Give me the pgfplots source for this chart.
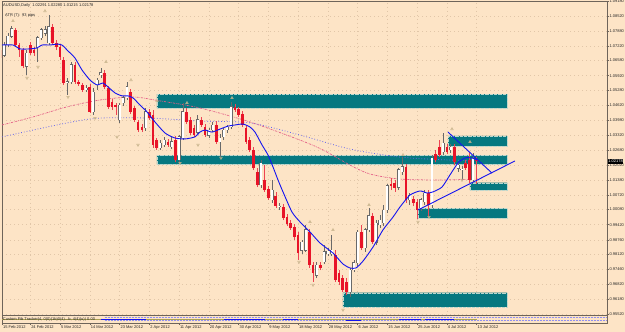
\documentclass[border=0pt]{standalone}
\usepackage{fontspec}
\setmainfont{Liberation Sans}
\usepackage{pgfplots}
\pgfplotsset{compat=1.18}
\usepackage{pgfplotstable}
\definecolor{bg}{RGB}{253,228,198}
\definecolor{boxteal}{RGB}{6,120,128}
\definecolor{boxedge}{RGB}{190,215,205}
\definecolor{bear}{RGB}{232,20,40}
\definecolor{bullline}{RGB}{105,105,105}
\definecolor{maBlue}{RGB}{20,20,240}
\definecolor{maPink}{RGB}{228,95,135}
\definecolor{maLav}{RGB}{105,105,235}
\definecolor{frac}{RGB}{200,180,140}
\definecolor{frame}{RGB}{110,100,90}
\definecolor{gridc}{RGB}{225,198,168}
\definecolor{olive}{RGB}{170,160,80}
\newcommand\mt{\fontsize{4}{4.8}\selectfont}

\pgfplotstableread{
i o h l c
1 1.0682 1.0739 1.0674 1.0726
2 1.0726 1.0778 1.0717 1.0765
3 1.0765 1.0809 1.0757 1.0796
7 1.0634 1.0704 1.0595 1.0691
10 1.0713 1.0765 1.0652 1.0757
11 1.0757 1.0800 1.0748 1.0792
12 1.0778 1.0809 1.0765 1.0792
13 1.0735 1.0857 1.0726 1.0805
18 1.0560 1.0582 1.0508 1.0565
19 1.0565 1.0652 1.0556 1.0639
23 1.0530 1.0552 1.0521 1.0538
25 1.0434 1.0538 1.0421 1.0521
26 1.0552 1.0582 1.0530 1.0573
27 1.0595 1.0626 1.0582 1.0604
32 1.0399 1.0473 1.0386 1.0464
33 1.0473 1.0504 1.0460 1.0495
34 1.0495 1.0565 1.0486 1.0543
39 1.0364 1.0451 1.0351 1.0434
43 1.0277 1.0311 1.0268 1.0298
44 1.0290 1.0325 1.0281 1.0311
46 1.0281 1.0325 1.0272 1.0303
48 1.0224 1.0333 1.0207 1.0325
49 1.0320 1.0473 1.0311 1.0434
53 1.0346 1.0421 1.0338 1.0399
56 1.0333 1.0364 1.0320 1.0355
57 1.0355 1.0390 1.0346 1.0377
59 1.0303 1.0338 1.0237 1.0320
60 1.0325 1.0364 1.0311 1.0355
61 1.0355 1.0377 1.0342 1.0368
62 1.0368 1.0477 1.0359 1.0456
70 1.0115 1.0224 1.0102 1.0211
73 1.0050 1.0137 1.0037 1.0093
75 1.0019 1.0037 1.0006 1.0023
81 0.9831 0.9875 0.9814 0.9866
82 0.9831 0.9941 0.9823 0.9919
85 0.9722 0.9779 0.9709 0.9766
87 0.9779 0.9853 0.9770 0.9823
88 0.9814 0.9840 0.9805 0.9827
89 0.9814 0.9897 0.9805 0.9831
94 0.9648 0.9753 0.9626 0.9744
95 0.9744 0.9788 0.9735 0.9775
96 0.9775 0.9919 0.9762 0.9910
98 0.9840 0.9927 0.9823 0.9919
99 0.9919 1.0015 0.9910 0.9980
101 0.9866 0.9962 0.9853 0.9949
102 0.9941 0.9984 0.9927 0.9962
103 0.9949 1.0028 0.9936 1.0006
104 1.0006 1.0119 0.9993 1.0111
107 1.0106 1.0189 1.0093 1.0181
108 1.0172 1.0237 1.0159 1.0194
110 1.0050 1.0080 1.0028 1.0071
113 1.0015 1.0058 1.0002 1.0050
114 1.0041 1.0093 1.0028 1.0080
116 1.0028 1.0246 1.0015 1.0233
119 1.0259 1.0342 1.0246 1.0298
121 1.0268 1.0294 1.0255 1.0281
123 1.0189 1.0215 1.0172 1.0202
124 1.0181 1.0198 1.0137 1.0185
127 1.0137 1.0255 1.0128 1.0233
}\upT

\pgfplotstableread{
i o h l c
0 1.0704 1.0717 1.0661 1.0669
4 1.0792 1.0800 1.0717 1.0726
5 1.0726 1.0735 1.0674 1.0704
6 1.0704 1.0713 1.0626 1.0634
8 1.0726 1.0739 1.0682 1.0691
9 1.0704 1.0717 1.0678 1.0691
14 1.0805 1.0818 1.0726 1.0735
15 1.0735 1.0748 1.0704 1.0717
16 1.0717 1.0730 1.0661 1.0674
17 1.0661 1.0674 1.0552 1.0560
20 1.0639 1.0652 1.0556 1.0565
21 1.0565 1.0573 1.0547 1.0556
22 1.0552 1.0560 1.0521 1.0530
24 1.0543 1.0556 1.0429 1.0434
28 1.0604 1.0617 1.0534 1.0543
29 1.0538 1.0547 1.0447 1.0456
30 1.0477 1.0490 1.0442 1.0456
31 1.0464 1.0473 1.0421 1.0456
35 1.0521 1.0534 1.0425 1.0434
36 1.0451 1.0460 1.0390 1.0399
37 1.0390 1.0399 1.0346 1.0355
38 1.0368 1.0381 1.0346 1.0355
40 1.0434 1.0447 1.0399 1.0407
41 1.0421 1.0442 1.0277 1.0290
42 1.0311 1.0320 1.0268 1.0277
45 1.0303 1.0316 1.0281 1.0290
47 1.0311 1.0329 1.0215 1.0224
50 1.0434 1.0451 1.0381 1.0390
51 1.0399 1.0412 1.0333 1.0342
52 1.0364 1.0377 1.0325 1.0333
54 1.0399 1.0412 1.0368 1.0377
55 1.0368 1.0381 1.0325 1.0333
58 1.0377 1.0394 1.0294 1.0303
63 1.0456 1.0469 1.0434 1.0442
64 1.0447 1.0456 1.0412 1.0421
65 1.0425 1.0438 1.0368 1.0377
66 1.0364 1.0377 1.0294 1.0303
67 1.0311 1.0325 1.0259 1.0268
68 1.0268 1.0281 1.0181 1.0189
69 1.0172 1.0189 1.0106 1.0115
71 1.0137 1.0202 1.0085 1.0093
72 1.0098 1.0111 1.0050 1.0058
74 1.0067 1.0085 1.0015 1.0023
76 1.0019 1.0032 0.9962 0.9971
77 0.9975 0.9989 0.9936 0.9945
78 0.9949 0.9962 0.9919 0.9927
79 0.9932 0.9945 0.9875 0.9888
80 0.9897 0.9910 0.9788 0.9818
83 0.9910 0.9923 0.9753 0.9766
84 0.9766 0.9779 0.9692 0.9731
86 0.9766 0.9779 0.9744 0.9753
90 0.9810 0.9831 0.9692 0.9701
91 0.9731 0.9744 0.9679 0.9692
92 0.9709 0.9722 0.9648 0.9657
93 0.9692 0.9709 0.9635 0.9648
97 0.9910 0.9941 0.9831 0.9840
100 0.9980 0.9993 0.9858 0.9866
105 1.0119 1.0146 1.0093 1.0111
106 1.0124 1.0137 1.0085 1.0102
109 1.0194 1.0207 1.0037 1.0050
111 1.0054 1.0067 1.0023 1.0037
112 1.0041 1.0054 0.9967 1.0006
115 1.0080 1.0093 0.9980 1.0028
117 1.0250 1.0268 1.0215 1.0224
118 1.0281 1.0311 1.0237 1.0246
120 1.0281 1.0294 1.0250 1.0259
122 1.0281 1.0294 1.0202 1.0215
125 1.0211 1.0224 1.0181 1.0189
126 1.0224 1.0259 1.0124 1.0137
128 1.02291 1.02380 1.01215 1.02178
}\downT

\begin{document}
\begin{tikzpicture}[x=1pt,y=1pt]
\useasboundingbox (0,0) rectangle (625,332);
\fill[bg] (0,0) rectangle (625,332);

\begin{axis}[at={(2pt,17pt)}, anchor=south west, scale only axis,
  width=605pt, height=314pt,
  xmin=0.403, xmax=163.04, ymin=0.95477, ymax=1.09180,
  axis line style={frame, line width=0.6pt},
  xtick={0.45,8,16,24,32,40,48,56,64,72,80,88,96,104,112,120,128},
  xticklabels={}, x tick style={draw=none},
  ytick={0.95520,0.96180,0.96820,0.97460,0.98120,0.98760,0.99420,1.00080,1.00720,1.01380,1.02020,1.02680,1.03320,1.03980,1.04620,1.05280,1.05920,1.06580,1.07220,1.07880,1.08520,1.09180},
  yticklabels={0.95520,0.96180,0.96820,0.97460,0.98120,0.98760,0.99420,1.00080,1.00720,1.01380,1.02020,1.02680,1.03320,1.03980,1.04620,1.05280,1.05920,1.06580,1.07220,1.07880,1.08520,1.09180},
  ytick pos=right, yticklabel pos=right, tick align=outside, major tick length=2pt,
  y tick style={frame, line width=0.4pt},
  yticklabel style={font=\mt, anchor=west, inner sep=0pt, xshift=0.3pt, text=black!85},
  grid=major, major grid style={gridc, line width=0.4pt, dash pattern=on 0.4pt off 3.6pt},
]
% teal boxes
\addplot[fill=boxteal, draw=boxedge, line width=0.3pt, densely dotted] coordinates {(42.07,1.0512) (136.16,1.0512) (136.16,1.0451) (42.07,1.0451) (42.07,1.0512)};
\addplot[fill=boxteal, draw=boxedge, line width=0.3pt, densely dotted] coordinates {(42.07,1.0244) (136.16,1.0244) (136.16,1.0205) (42.07,1.0205) (42.07,1.0244)};
\addplot[fill=boxteal, draw=boxedge, line width=0.3pt, densely dotted] coordinates {(120.30,1.0329) (136.16,1.0329) (136.16,1.0285) (120.30,1.0285) (120.30,1.0329)};
\addplot[fill=boxteal, draw=boxedge, line width=0.3pt, densely dotted] coordinates {(126.21,1.0125) (136.16,1.0125) (136.16,1.0093) (126.21,1.0093) (126.21,1.0125)};
\addplot[fill=boxteal, draw=boxedge, line width=0.3pt, densely dotted] coordinates {(112.23,1.0013) (136.16,1.0013) (136.16,0.9970) (112.23,0.9970) (112.23,1.0013)};
\addplot[fill=boxteal, draw=boxedge, line width=0.3pt, densely dotted] coordinates {(92.07,0.9645) (136.16,0.9645) (136.16,0.9583) (92.07,0.9583) (92.07,0.9645)};

% slow moving averages
\addplot[maPink, line width=0.7pt, dash pattern=on 2pt off 1pt on 0.6pt off 1pt, smooth, tension=0.5] coordinates {
(0.4,1.0377) (8.74,1.0412) (17.88,1.0456) (26.75,1.0486) (35.62,1.0499) (42.88,1.0482) (53.63,1.0451) (67.07,1.0390) (80.51,1.0311) (86.69,1.0268) (93.95,1.0202) (99.33,1.0163) (107.39,1.0141) (118.15,1.0137) (128.36,1.0141)};
\addplot[maLav, line width=0.8pt, dotted, smooth, tension=0.5] coordinates {
(0.4,1.0325) (17.88,1.0386) (26.75,1.0407) (40.19,1.0407) (53.63,1.0394) (67.07,1.0386) (80.51,1.0333) (93.95,1.0272) (107.39,1.0237) (120.83,1.0224) (128.36,1.0224)};

% candles: wicks
\addplot[quiver={u=0, v=\thisrow{h}-\thisrow{l}}, draw=bullline, line width=0.5pt, -] table[x=i, y=l] {\upT};
\addplot[quiver={u=0, v=\thisrow{h}-\thisrow{l}}, draw=bear!80, line width=0.5pt, -] table[x=i, y=l] {\downT};
% bodies
\addplot[quiver={u=0, v=\thisrow{c}-\thisrow{o}+0.0004}, draw=bullline, line width=2.9pt, -] table[x=i, y expr=\thisrow{o}-0.0002] {\upT};
\addplot[quiver={u=0, v=\thisrow{c}-\thisrow{o}}, draw=white, line width=2.0pt, -] table[x=i, y=o] {\upT};
\addplot[quiver={u=0, v=\thisrow{o}-\thisrow{c}}, draw=bear, line width=2.7pt, -] table[x=i, y=c] {\downT};

% fast moving average
\addplot[maBlue, line width=0.9pt, smooth, tension=0.4] coordinates {
(0.4,1.0726) (3.36,1.0726) (5.24,1.0709) (7.93,1.0709) (9.81,1.0713) (11.16,1.0726) (13.31,1.0726) (15.46,1.0730) (16.53,1.0726) (18.15,1.0700) (20.03,1.0669) (21.91,1.0617) (24.06,1.0573) (25.94,1.0552) (27.55,1.0560) (28.90,1.0543) (30.78,1.0517) (32.66,1.0504) (34.27,1.0504) (35.62,1.0495) (37.50,1.0464) (39.38,1.0434) (41.53,1.0390) (44.22,1.0342) (46.91,1.0320) (49.60,1.0316) (52.28,1.0325) (53.63,1.0346) (54.97,1.0355) (56.85,1.0346) (59.01,1.0359) (61.16,1.0372) (63.04,1.0377) (65.19,1.0381) (67.07,1.0368) (68.41,1.0346) (70.30,1.0290) (71.91,1.0246) (73.25,1.0194) (74.60,1.0137) (75.94,1.0085) (78.36,0.9997) (80.51,0.9954) (83.20,0.9910) (85.89,0.9862) (89.38,0.9818) (92.07,0.9770) (93.95,0.9753) (95.56,0.9753) (97.45,0.9783) (100.13,0.9844) (102.82,0.9919) (105.51,0.9975) (107.39,1.0019) (110.08,1.0071) (112.77,1.0089) (114.65,1.0080) (116.26,1.0085) (118.68,1.0106) (120.83,1.0159) (122.98,1.0211) (124.87,1.0233) (126.75,1.0233) (128.09,1.0224)};

% trend lines
\addplot[maBlue, line width=0.9pt] coordinates {(112.23,1.0006) (138.31,1.0220)};
\addplot[maBlue, line width=0.9pt] coordinates {(120.30,1.0346) (132.12,1.0167)};

% fractals
\addplot[only marks, mark=triangle, mark size=1.5pt, mark options={frac, line width=0.5pt}] coordinates {
(3.36,1.0831) (11.96,1.0874) (28.36,1.0652) (35.08,1.0573) (42.07,1.0482) (50.13,1.0473) (62.23,1.0495) (83.20,0.9954) (89.38,0.9919) (99.06,1.0028) (108.20,1.0246) (121.37,1.0359) (126.21,1.0303)};
\addplot[only marks, mark=triangle, mark size=1.5pt, mark options={frac, line width=0.5pt, rotate=180}] coordinates {
(7.12,1.0582) (10.08,1.0630) (18.15,1.0499) (25.40,1.0407) (31.32,1.0325) (36.96,1.0290) (48.25,1.0211) (53.09,1.0290) (59.27,1.0233) (80.24,0.9779) (84.01,0.9679) (92.07,0.9570) (112.23,0.9954) (115.19,0.9975) (124.06,1.0137)};

\coordinate (pricetag) at (axis cs:163.04,1.02178);
\end{axis}

\node[fill=black, text=white, font=\mt, anchor=west, inner xsep=0.6pt, inner ysep=0.7pt] at ([xshift=0.6pt]pricetag) {1.02178};

% indicator strip
\begin{axis}[at={(2pt,9pt)}, anchor=south west, scale only axis,
  width=605pt, height=8pt,
  xmin=0.403, xmax=163.04, ymin=0, ymax=1,
  axis line style={frame, line width=0.6pt},
  ytick=\empty,
  xtick={0.45,8,16,24,32,40,48,56,64,72,80,88,96,104,112,120,128},
  xticklabels={15 Feb 2012,24 Feb 2012,5 Mar 2012,14 Mar 2012,23 Mar 2012,2 Apr 2012,11 Apr 2012,20 Apr 2012,30 Apr 2012,9 May 2012,18 May 2012,28 May 2012,6 Jun 2012,15 Jun 2012,25 Jun 2012,4 Jul 2012,13 Jul 2012},
  xtick pos=bottom, tick align=outside, major tick length=2pt,
  x tick style={frame, line width=0.4pt},
  xticklabel style={font=\mt, anchor=north west, inner sep=0pt, xshift=0.8pt, yshift=-0.6pt, text=black!85},
  clip=true,
]
\addplot[maLav!75, line width=1.1pt, dash pattern=on 0.7pt off 0.8pt] coordinates {(28,0.3) (163.04,0.3)};
\addplot[maLav!75, line width=1.1pt, dash pattern=on 0.7pt off 0.8pt] coordinates {(28,0.72) (163.04,0.72)};
\addplot[olive, line width=0.5pt] coordinates {(0.4,0.5) (128,0.5)};
\addplot[maBlue, line width=0.8pt] coordinates {(27,0.45) (39,0.45)};
\addplot[maBlue, line width=0.8pt] coordinates {(60,0.4) (71,0.4)};
\addplot[maBlue, line width=0.8pt] coordinates {(76,0.45) (80,0.45)};
\addplot[maBlue, line width=0.8pt] coordinates {(93,0.35) (97,0.35)};
\addplot[maBlue, line width=0.8pt] coordinates {(107,0.45) (113,0.45)};
\addplot[maBlue, line width=0.8pt] coordinates {(114,0.5) (122,0.5)};
\node[font=\mt, anchor=west, inner sep=0pt, text=black!85] at (axis cs:0.6,0.5) {Custom Fib Tracker(4, 0(0)(1b)0(4)...b, 4(4)(u)) 0.00};
\end{axis}

\node[font=\mt, anchor=west, inner sep=0pt, text=black!85] at (3,327) {AUDUSD,Daily\ \ 1.02291 1.02280 1.01215 1.02178};
\node[font=\mt, anchor=west, inner sep=0pt, text=black!85] at (5,317) {ATR (7):\ \ 93 pips};
\end{tikzpicture}
\end{document}
